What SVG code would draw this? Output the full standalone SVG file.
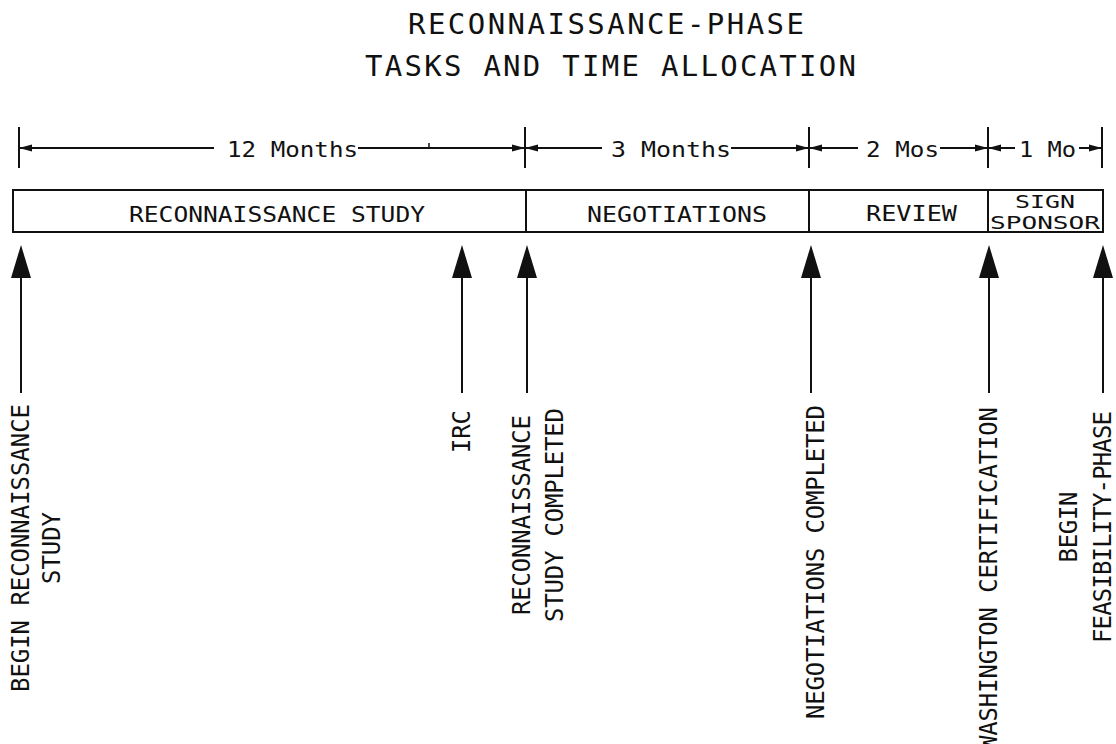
<svg xmlns="http://www.w3.org/2000/svg" width="1116" height="744" viewBox="0 0 1116 744">
<style>
  .t { font-family: "DejaVu Sans Mono", "Liberation Mono", monospace; fill: #111; }
  .title { font-size: 29px; }
  .dim { font-size: 21px; }
  .box { font-size: 21px; }
  .small { font-size: 18.5px; }
  .vert { font-size: 24px; }
  .ln { stroke: #111; stroke-width: 2; fill: none; }
  .hd { fill: #111; stroke: none; }
</style>
<rect width="1116" height="744" fill="#fff"/>

<g id="title">
  <text class="t title" x="408" y="34" textLength="396" lengthAdjust="spacing">RECONNAISSANCE-PHASE</text>
  <text class="t title" x="365" y="76" textLength="491" lengthAdjust="spacing">TASKS AND TIME ALLOCATION</text>
</g>

<g id="time-allocation">
  <line class="ln" x1="19" y1="127" x2="19" y2="168"/>
  <line class="ln" x1="525" y1="127" x2="525" y2="168"/>
  <line class="ln" x1="809" y1="127" x2="809" y2="168"/>
  <line class="ln" x1="988" y1="127" x2="988" y2="168"/>
  <line class="ln" x1="1102" y1="127" x2="1102" y2="168"/>
  <line class="ln" x1="19" y1="148" x2="214" y2="148"/>
  <line class="ln" x1="358" y1="148" x2="525" y2="148"/>
  <line class="ln" x1="429" y1="148" x2="429" y2="143" style="stroke-width:1.5"/>
  <line class="ln" x1="525" y1="148" x2="602" y2="148"/>
  <line class="ln" x1="731" y1="148" x2="809" y2="148"/>
  <line class="ln" x1="809" y1="148" x2="858" y2="148"/>
  <line class="ln" x1="940" y1="148" x2="988" y2="148"/>
  <line class="ln" x1="988" y1="148" x2="1015" y2="148"/>
  <line class="ln" x1="1079" y1="148" x2="1102" y2="148"/>
  <polygon class="hd" points="19,148 32,144.5 32,151.5"/>
  <polygon class="hd" points="525,148 512,144.5 512,151.5"/>
  <polygon class="hd" points="525,148 538,144.5 538,151.5"/>
  <polygon class="hd" points="809,148 796,144.5 796,151.5"/>
  <polygon class="hd" points="809,148 822,144.5 822,151.5"/>
  <polygon class="hd" points="988,148 975,144.5 975,151.5"/>
  <polygon class="hd" points="988,148 1001,144.5 1001,151.5"/>
  <polygon class="hd" points="1102,148 1089,144.5 1089,151.5"/>
  <text class="t dim" x="227" y="157" textLength="131" lengthAdjust="spacingAndGlyphs">12 Months</text>
  <text class="t dim" x="611" y="157" textLength="120" lengthAdjust="spacingAndGlyphs">3 Months</text>
  <text class="t dim" x="866" y="157" textLength="73" lengthAdjust="spacingAndGlyphs">2 Mos</text>
  <text class="t dim" x="1019" y="157" textLength="57" lengthAdjust="spacingAndGlyphs">1 Mo</text>
</g>

<g id="phase-reconnaissance-study">
  <rect class="ln" x="13" y="190" width="513" height="42"/>
  <text class="t box" x="129" y="222" textLength="296" lengthAdjust="spacingAndGlyphs">RECONNAISSANCE STUDY</text>
</g>
<g id="phase-negotiations">
  <rect class="ln" x="526" y="190" width="283" height="42"/>
  <text class="t box" x="587" y="222" textLength="180" lengthAdjust="spacingAndGlyphs">NEGOTIATIONS</text>
</g>
<g id="phase-review">
  <rect class="ln" x="809" y="190" width="179" height="42"/>
  <text class="t box" x="866" y="221" textLength="91" lengthAdjust="spacingAndGlyphs">REVIEW</text>
</g>
<g id="phase-sign-sponsor">
  <rect class="ln" x="988" y="190" width="115" height="42"/>
  <text class="t small" x="1015" y="208" textLength="60" lengthAdjust="spacingAndGlyphs">SIGN</text>
  <text class="t small" x="990" y="229" textLength="110" lengthAdjust="spacingAndGlyphs">SPONSOR</text>
</g>

<g id="connectors">
  <line class="ln" x1="21" y1="276" x2="21" y2="393"/>
  <polygon class="hd" points="21,245 11,278 31,278"/>
  <line class="ln" x1="462" y1="276" x2="462" y2="393"/>
  <polygon class="hd" points="462,245 452,278 472,278"/>
  <line class="ln" x1="527" y1="276" x2="527" y2="393"/>
  <polygon class="hd" points="527,245 517,278 537,278"/>
  <line class="ln" x1="811" y1="276" x2="811" y2="393"/>
  <polygon class="hd" points="811,245 801,278 821,278"/>
  <line class="ln" x1="989" y1="276" x2="989" y2="393"/>
  <polygon class="hd" points="989,245 979,278 999,278"/>
  <line class="ln" x1="1103" y1="276" x2="1103" y2="393"/>
  <polygon class="hd" points="1103,245 1093,278 1113,278"/>
</g>

<g id="milestone-begin-reconnaissance">
  <text class="t vert" transform="translate(29,548) rotate(-90)" text-anchor="middle" textLength="288" lengthAdjust="spacing">BEGIN RECONNAISSANCE</text>
  <text class="t vert" transform="translate(60,548) rotate(-90)" text-anchor="middle" textLength="72" lengthAdjust="spacing">STUDY</text>
</g>
<g id="milestone-irc">
  <text class="t vert" transform="translate(470,410) rotate(-90)" text-anchor="end" textLength="43" lengthAdjust="spacing">IRC</text>
</g>
<g id="milestone-reconnaissance-completed">
  <text class="t vert" transform="translate(530,515) rotate(-90)" text-anchor="middle" textLength="200" lengthAdjust="spacing">RECONNAISSANCE</text>
  <text class="t vert" transform="translate(563,515) rotate(-90)" text-anchor="middle" textLength="214" lengthAdjust="spacing">STUDY COMPLETED</text>
</g>
<g id="milestone-negotiations-completed">
  <text class="t vert" transform="translate(824,405) rotate(-90)" text-anchor="end" textLength="314" lengthAdjust="spacing">NEGOTIATIONS COMPLETED</text>
</g>
<g id="milestone-washington-certification">
  <text class="t vert" transform="translate(997,407) rotate(-90)" text-anchor="end" textLength="343" lengthAdjust="spacing">WASHINGTON CERTIFICATION</text>
</g>
<g id="milestone-begin-feasibility">
  <text class="t vert" transform="translate(1077,527) rotate(-90)" text-anchor="middle" textLength="71" lengthAdjust="spacing">BEGIN</text>
  <text class="t vert" transform="translate(1111,527) rotate(-90)" text-anchor="middle" textLength="232" lengthAdjust="spacing">FEASIBILITY-PHASE</text>
</g>
</svg>
